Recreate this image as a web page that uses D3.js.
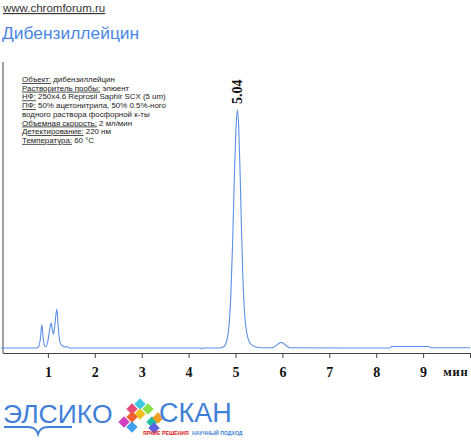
<!DOCTYPE html>
<html><head><meta charset="utf-8">
<script src="https://cdn.jsdelivr.net/npm/d3@7"></script>
<style>body{margin:0;background:#fff}svg{display:block}</style>
</head><body>
<svg id="c" width="471" height="442"></svg>
<script>
const siteLabel = "www.chromforum.ru";
const chartTitle = "Дибензиллейцин";
const infoLabels = ["Объект:", "Растворитель пробы:", "НФ:", "ПФ:", "", "Объемная скорость:", "Детектирование:", "Температура:"];
const infoValues = [" дибензиллейцин", " элюент", " 250x4.6 Reprosil Saphir SCX (5 um)", " 50% ацетонитрила, 50% 0.5%-ного", "водного раствора фосфорной к-ты", " 2 мл/мин", " 220 нм", " 60 °C"];
const tickValues = [1,2,3,4,5,6,7,8,9,10];
const tickLabels = ["1","2","3","4","5","6","7","8","9","мин"];
const peakTime = 5.04;
const peakLabel = "5.04";
// chromatogram: time (min) and signal (% of main peak)
const times = [0, 0.75, 0.80, 0.84, 0.87, 0.90, 0.93, 0.96, 1.00, 1.04, 1.07, 1.10, 1.12, 1.15, 1.19, 1.22, 1.25, 1.28, 1.32, 1.36, 1.40, 1.44, 1.50,
  4.25, 4.28, 4.31, 4.65, 4.72, 4.77, 4.82, 4.86, 4.90, 4.94, 4.98, 5.01, 5.04, 5.07, 5.10, 5.13, 5.16, 5.20, 5.24, 5.28, 5.32, 5.36, 5.40, 5.45, 5.52,
  5.78, 5.86, 5.93, 5.98, 6.04, 6.10, 6.16, 8.28, 8.33, 9.12, 9.18, 10];
const signal = [0, 0, 0.5, 4, 9.7, 4, 0.8, 0.6, 3, 8, 10.5, 7, 5.8, 10, 16.4, 9, 3, 1.5, 0.8, 0.4, 0.6, 0.1, 0,
  0, -0.4, 0, 0, 0.3, 1.0, 3.5, 9, 22, 45, 75, 92, 100, 92, 72, 48, 28, 13, 6.5, 3.2, 1.8, 1.1, 0.6, 0.3, 0.1,
  0.1, 0.9, 2.0, 2.3, 1.7, 0.6, 0.1, 0, 0.6, 0.6, 0.1, 0.1];

const svg = d3.select("#c");
const x = d3.scaleLinear().domain([0, 10]).range([1, 470]);
const y = d3.scaleLinear().domain([0, 100]).range([348, 110]);
const blue = "#5b8fe8";

svg.append("text").attr("x", 3).attr("y", 12).attr("font-family", "Arial, Liberation Sans, sans-serif")
  .attr("font-size", 11.5).attr("fill", "#333").attr("text-decoration", "underline").text(siteLabel);
svg.append("text").attr("x", 2).attr("y", 39).attr("font-family", "Arial, Liberation Sans, sans-serif")
  .attr("font-size", 17.4).attr("fill", "#4a86e8").text(chartTitle);

// info block
const info = svg.append("g").attr("font-family", "Arial, Liberation Sans, sans-serif").attr("font-size", 7.9).attr("fill", "#222");
infoLabels.forEach((lab, i) => {
  const t = info.append("text").attr("x", 22).attr("y", 82 + i * 8.7);
  if (lab) t.append("tspan").attr("text-decoration", "underline").text(lab);
  t.append("tspan").text(infoValues[i]);
});

// axes
svg.append("line").attr("x1", 3).attr("x2", 3).attr("y1", 62).attr("y2", 353).attr("stroke", "#444").attr("stroke-width", 1);
const ax = svg.append("g").attr("transform", "translate(0,353)")
  .call(d3.axisBottom(x).tickValues(tickValues).tickSize(5).tickPadding(9).tickFormat((d, i) => tickLabels[i]));
ax.select(".domain").attr("d", `M3,0.5H${x(10)}`).attr("stroke", "#444");
ax.selectAll(".tick line").attr("stroke", "#444");
ax.selectAll(".tick text").attr("font-family", "Times New Roman, Liberation Serif, serif").attr("font-weight", "bold")
  .attr("font-size", 14).attr("fill", "#111");
ax.selectAll(".tick text").filter((d) => d === 10).attr("text-anchor", "end").attr("x", -2).attr("font-size", 12.5).attr("letter-spacing", 0.8);

// line
const line = d3.line().x((d, i) => x(times[i])).y((d) => y(d)).curve(d3.curveMonotoneX);
svg.append("path").datum(signal).attr("d", line).attr("fill", "none").attr("stroke", blue).attr("stroke-width", 1.1);

// peak label
svg.append("text").attr("transform", `translate(${x(peakTime) + 5},104) rotate(-90)`)
  .attr("font-family", "Times New Roman, Liberation Serif, serif").attr("font-weight", "bold").attr("font-size", 14)
  .attr("fill", "#111").text(peakLabel);

// logo
const logo = svg.append("g");
logo.append("text").attr("x", 3).attr("y", 423).attr("font-family", "Arial, Liberation Sans, sans-serif")
  .attr("font-size", 26.5).attr("fill", "#3f7fd8").text("ЭЛСИКО");
logo.append("path").attr("d", "M4,427 H28 Q36,427 38,434 Q40,427 48,427 H72").attr("fill", "none").attr("stroke", "#3f7fd8").attr("stroke-width", 2);
const cubes = [[128,405,"#e84a7a"],[136,400,"#3cc8e0"],[144,405,"#8be04a"],[136,410,"#f0c020"],[120,418,"#d040c0"],[128,423,"#40a0f0"],[128,413,"#f06030"],[148,418,"#20c0a0"],[154,414,"#f0a020"],[150,424,"#6060e0"]];
cubes.forEach(c => logo.append("rect").attr("x", c[0]).attr("y", c[1]).attr("width", 8).attr("height", 8)
  .attr("transform", `rotate(45 ${c[0] + 4} ${c[1] + 4})`).attr("fill", c[2]));
logo.append("text").attr("x", 159).attr("y", 422).attr("font-family", "Arial, Liberation Sans, sans-serif")
  .attr("font-size", 27).attr("fill", "#3f7fd8").text("СКАН");
logo.append("text").attr("x", 143).attr("y", 435).attr("font-family", "Arial, Liberation Sans, sans-serif").attr("font-weight", "bold")
  .attr("font-size", 5.2).attr("fill", "#e02020").text("ЯРКИЕ РЕШЕНИЯ");
logo.append("text").attr("x", 192).attr("y", 435).attr("font-family", "Arial, Liberation Sans, sans-serif").attr("font-weight", "bold")
  .attr("font-size", 5.2).attr("fill", "#3f7fd8").text("НАУЧНЫЙ ПОДХОД");
</script>
</body></html>
